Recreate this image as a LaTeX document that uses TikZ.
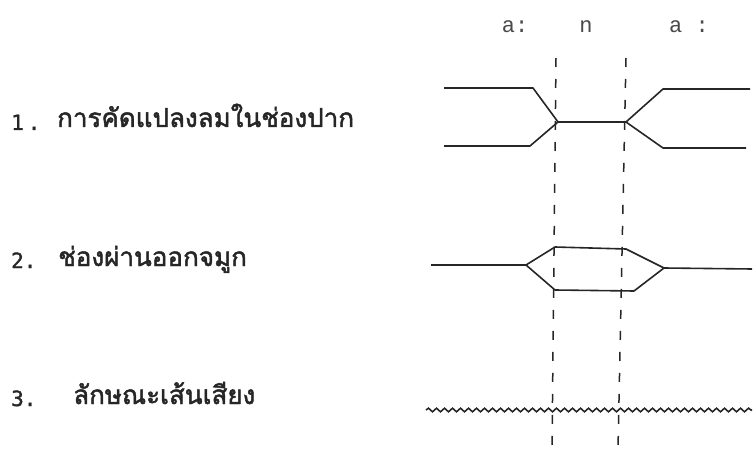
\documentclass[tikz,border=0pt]{standalone}
\usepackage{fontspec}
\newfontfamily\thaifont[Script=Thai, FakeBold=1.8]{Loma}
\newfontfamily\numfont[FakeBold=1.6]{DejaVu Sans Mono}
\newfontfamily\typefont{Liberation Mono}
\usetikzlibrary{decorations.pathmorphing}
\definecolor{ink}{HTML}{262626}
\definecolor{softink}{HTML}{4a4a4a}
\tikzset{
  trace/.style={draw=ink, line width=1.6pt, line join=round},
  boundary/.style={draw=ink, line width=1.5pt, dash pattern=on 9pt off 12pt},
  rowlabel/.style={anchor=base west, inner sep=0pt, font=\thaifont\fontsize{26}{29}\selectfont, text=ink},
  rownum/.style={anchor=base west, inner sep=0pt, font=\numfont\fontsize{21}{24}\selectfont, text=ink},
  segment/.style={anchor=base, inner sep=0pt, font=\typefont\fontsize{22}{24}\selectfont, text=softink},
  voicing/.style={draw=ink, line width=1.6pt, decorate,
    decoration={snake, segment length=8pt, amplitude=1.8pt}}
}
\begin{document}
\begin{tikzpicture}[x=1pt,y=-1pt]
\useasboundingbox (0,0) rectangle (755,449);

% segment labels
\node[segment] (s1) at (515,33) {a:};
\node[segment] (s2) at (586,33) {n};
\node[segment] (s3) at (689,33) {a :};

% row numbers and labels
\node[rownum] (n1) at (11,130) {1\hspace{4pt}.};
\node[rownum] (n2) at (11,268) {2.};
\node[rownum] (n3) at (11,406) {3.};
\node[rowlabel] (t1) at (57,127) {การคัดแปลงลมในช่องปาก};
\node[rowlabel] (t2) at (58,266) {ช่องผ่านออกจมูก};
\node[rowlabel] (t3) at (73,404) {ลักษณะเส้นเสียง};

% segment boundaries
\coordinate (b1top) at (556,58);
\coordinate (b1bot) at (552,449);
\coordinate (b2top) at (626,58);
\coordinate (b2bot) at (618,449);
\draw[boundary] (b1top) -- (b1bot);
\draw[boundary] (b2top) -- (b2bot);

% 1. oral articulation
\coordinate (c1) at (558,122);
\coordinate (c2) at (626,122);
\draw[trace] (444,88) -- (533,88) -- (c1) -- (c2) -- (663,89) -- (750,89);
\draw[trace] (444,146) -- (530,146) -- (c1);
\draw[trace] (c2) -- (663,148) -- (746,148);

% 2. nasal passage
\coordinate (v1) at (526,265);
\coordinate (v2) at (664,268);
\draw[trace] (431,265) -- (v1) -- (555,247) -- (626,249) -- (v2) -- (752,269);
\draw[trace] (v1) -- (555,290) -- (634,291) -- (v2);

% 3. vocal folds
\draw[voicing] (426,410) -- (752,410);
\end{tikzpicture}
\end{document}
